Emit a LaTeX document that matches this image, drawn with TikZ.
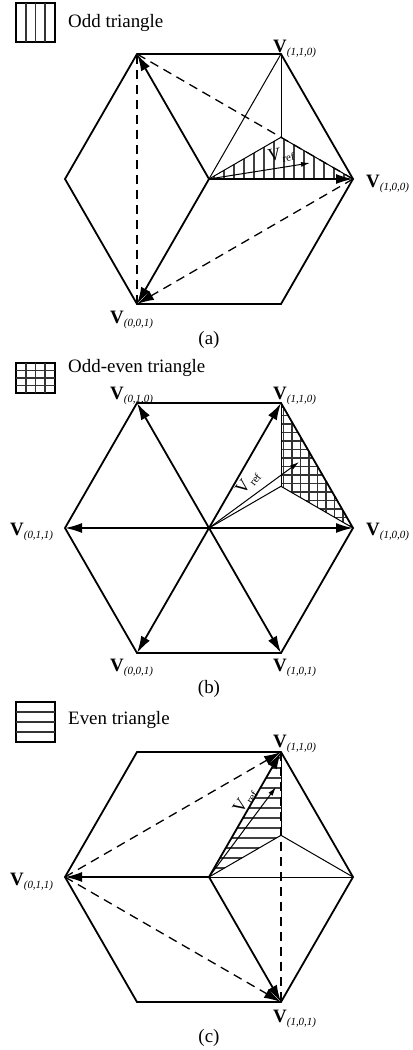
\documentclass[tikz,border=0pt]{standalone}
\usepackage{fontspec}
\setmainfont{Liberation Serif}
\usetikzlibrary{arrows.meta}
\newcommand\vlab[1]{\fontsize{19}{19}\selectfont\textbf{V}\raisebox{-3bp}{\fontsize{11}{11}\selectfont\itshape(#1)}}
\newcommand\vrefl{\fontsize{18}{18}\selectfont V\kern1bp\raisebox{-3bp}{\fontsize{11}{11}\selectfont ref}}
\tikzset{
  hexa/.style={line width=1.8bp, line join=miter},
  vec/.style={line width=1.8bp, -{Latex[length=17bp,width=10bp]}},
  thinln/.style={line width=1bp},
  dashln/.style={line width=1.3bp, dash pattern=on 9bp off 6bp},
  dasharr/.style={dashln, -{Latex[length=17bp,width=10bp]}},
  vrefarr/.style={line width=1bp, -{Latex[length=9bp,width=5bp]}},
  lab/.style={anchor=base west, inner sep=0pt},
  leg/.style={font=\fontsize{19}{19}\selectfont, anchor=base west, inner sep=0pt},
  captxt/.style={font=\fontsize{19}{19}\selectfont, anchor=base, inner sep=0pt},
  stripe/.style={line width=1.8bp, black!75},
  gridln/.style={line width=1.3bp, black!80},
  legbox/.style={line width=1.6bp},
  legin/.style={line width=1.6bp, black!80}
}
\begin{document}
\begin{tikzpicture}[x=1bp,y=-1bp]
\useasboundingbox (0,0) rectangle (412,1050);
% ---------------- panel (a) ----------------
\coordinate (aC) at (209,179);
\coordinate (a100) at (353,179);
\coordinate (a110) at (281,54);
\coordinate (a010) at (137,54);
\coordinate (a011) at (65,179);
\coordinate (a001) at (137,304);
\coordinate (a101) at (281,304);
\coordinate (aG) at (281,137.3);
\coordinate (aR) at (310,163);
% hatch
\begin{scope}
\clip (aC) -- (aG) -- (a100) -- cycle;
\foreach \x in {214,224,...,354} \draw[stripe] (\x,130) -- (\x,185);
\end{scope}
\draw[hexa] (a100) -- (a110) -- (a010) -- (a011) -- (a001) -- (a101) -- cycle;
\draw[thinln] (aC) -- (a110);
\draw[thinln] (a110) -- (aG);
\draw[thinln] (aC) -- (aG) -- (a100);
\draw[dashln] (a001) -- (a010);
\draw[dashln] (a100) -- (a010);
\draw[dasharr] (a100) -- (a001);
\draw[vec] (aC) -- (a100);
\draw[vec] (aC) -- (a010);
\draw[vec] (aC) -- (a001);
\draw[vrefarr] (aC) -- (aR);
\node[inner sep=0pt, rotate=9] (aVref) at (281,155) {\vrefl};
\node[lab] (la110) at (273,52) {\vlab{1,1,0}};
\node[lab] (la100) at (366,187) {\vlab{1,0,0}};
\node[lab] (la001) at (110,323) {\vlab{0,0,1}};
\node[captxt] (capa) at (209,344) {(a)};
% legend a
\draw[legbox] (16,3) rectangle (55,42);
\foreach \x in {25.75,35.5,45.25} \draw[legin] (\x,3) -- (\x,42);
\node[leg] (lega) at (68,27) {Odd triangle};
% ---------------- panel (b) ----------------
\coordinate (bC) at (209,528);
\coordinate (b100) at (353,528);
\coordinate (b110) at (281,403);
\coordinate (b010) at (137,403);
\coordinate (b011) at (65,528);
\coordinate (b001) at (137,653);
\coordinate (b101) at (281,653);
\coordinate (bG) at (281,486.3);
\coordinate (bR) at (299,462);
\begin{scope}
\clip (b110) -- (bG) -- (b100) -- cycle;
\foreach \x in {283.5,292,...,356} \draw[gridln] (\x,398) -- (\x,532);
\foreach \y in {407,415.5,...,532} \draw[gridln] (276,\y) -- (358,\y);
\end{scope}
\draw[hexa] (b100) -- (b110) -- (b010) -- (b011) -- (b001) -- (b101) -- cycle;
\draw[thinln] (b110) -- (bG);
\draw[thinln] (bC) -- (bG) -- (b100);
\draw[vec] (bC) -- (b100);
\draw[vec] (bC) -- (b110);
\draw[vec] (bC) -- (b010);
\draw[vec] (bC) -- (b011);
\draw[vec] (bC) -- (b001);
\draw[vec] (bC) -- (b101);
\draw[vrefarr] (bC) -- (bR);
\node[inner sep=0pt, rotate=52] (bVref) at (248,483) {\vrefl};
\node[lab] (lb010) at (110,399) {\vlab{0,1,0}};
\node[lab] (lb110) at (273,399) {\vlab{1,1,0}};
\node[lab] (lb011) at (10,535) {\vlab{0,1,1}};
\node[lab] (lb100) at (366,535) {\vlab{1,0,0}};
\node[lab] (lb001) at (110,671) {\vlab{0,0,1}};
\node[lab] (lb101) at (273,671) {\vlab{1,0,1}};
\node[captxt] (capb) at (209,693) {(b)};
% legend b
\draw[legbox] (16,363) rectangle (55,393);
\foreach \x in {25.75,35.5,45.25} \draw[legin] (\x,363) -- (\x,393);
\foreach \y in {370.5,378,385.5} \draw[legin] (16,\y) -- (55,\y);
\node[leg] (legb) at (68,372) {Odd-even triangle};
% ---------------- panel (c) ----------------
\coordinate (cC) at (209,877);
\coordinate (c100) at (353,877);
\coordinate (c110) at (281,752);
\coordinate (c010) at (137,752);
\coordinate (c011) at (65,877);
\coordinate (c001) at (137,1002);
\coordinate (c101) at (281,1002);
\coordinate (cG) at (281,835.3);
\coordinate (cR) at (276,787);
\begin{scope}
\clip (cC) -- (c110) -- (cG) -- cycle;
\foreach \y in {758,768,...,880} \draw[stripe] (205,\y) -- (285,\y);
\end{scope}
\draw[hexa] (c100) -- (c110) -- (c010) -- (c011) -- (c001) -- (c101) -- cycle;
\draw[thinln] (c110) -- (cG);
\draw[thinln] (cC) -- (cG) -- (c100);
\draw[thinln] (cC) -- (c100);
\draw[dashln] (c110) -- (c101);
\draw[dasharr] (c011) -- (c110);
\draw[dasharr] (c011) -- (c101);
\draw[vec] (cC) -- (c110);
\draw[vec] (cC) -- (c011);
\draw[vec] (cC) -- (c101);
\draw[vrefarr] (cC) -- (cR);
\node[inner sep=0pt, rotate=56] (cVref) at (245,801) {\vrefl};
\node[lab] (lc110) at (273,747) {\vlab{1,1,0}};
\node[lab] (lc011) at (10,885) {\vlab{0,1,1}};
\node[lab] (lc101) at (273,1022) {\vlab{1,0,1}};
\node[captxt] (capc) at (209,1042) {(c)};
% legend c
\draw[legbox] (16,702) rectangle (55,742);
\foreach \y in {712,722,732} \draw[legin] (16,\y) -- (55,\y);
\node[leg] (legc) at (68,724) {Even triangle};
\end{tikzpicture}
\end{document}
